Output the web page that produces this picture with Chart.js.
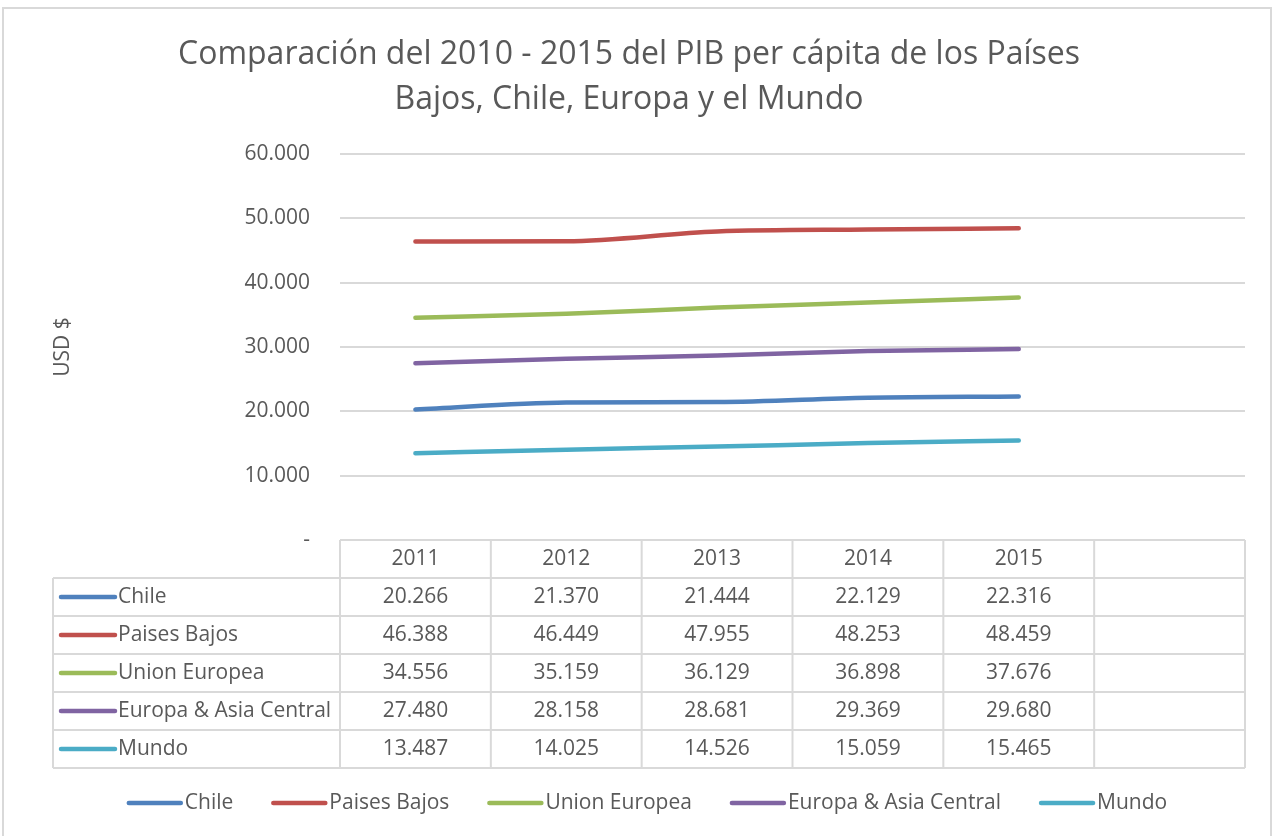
<!DOCTYPE html>
<html>
<head>
<meta charset="utf-8">
<script src="https://cdn.jsdelivr.net/npm/chart.js@4"></script>
<style>
  body { margin: 0; background: #fff; }
  #wrap { width: 1274px; height: 836px; }
</style>
</head>
<body>
<div id="wrap"><canvas id="pib"></canvas></div>
<script>
const titleLines = ['Comparación del 2010 - 2015 del PIB per cápita de los Países', 'Bajos, Chile, Europa y el Mundo'];
const years = ['2011', '2012', '2013', '2014', '2015', ''];
const seriesNames = ['Chile', 'Paises Bajos', 'Union Europea', 'Europa & Asia Central', 'Mundo'];
const chile = [20266, 21370, 21444, 22129, 22316];
const paisesBajos = [46388, 46449, 47955, 48253, 48459];
const unionEuropea = [34556, 35159, 36129, 36898, 37676];
const europaAsia = [27480, 28158, 28681, 29369, 29680];
const mundo = [13487, 14025, 14526, 15059, 15465];
const colors = ['#4F81BD', '#C0504D', '#9BBB59', '#8064A2', '#4BACC6'];

const FONT = '"Open Sans", sans-serif';
const TXT = '#595959';
const GRID = '#d9d9d9';
const FS = 21;

function fmt(v) {
  if (v === 0) return '-';
  return String(v).replace(/\B(?=(\d{3})+(?!\d))/g, '.');
}

const allSeries = [chile, paisesBajos, unionEuropea, europaAsia, mundo];

// title, excel-style data table under the plot, legend at the bottom
const tablePlugin = {
  id: 'tableAndLegend',
  beforeDraw(chart) {
    const ctx = chart.ctx;
    ctx.save();
    ctx.fillStyle = '#fff';
    ctx.fillRect(0, 0, chart.width, chart.height);
    ctx.strokeStyle = GRID;
    ctx.lineWidth = 2;
    ctx.strokeRect(3, 8, 1268, 840);
    ctx.restore();
  },
  afterDraw(chart) {
    const ctx = chart.ctx;
    const x = chart.scales.x;
    const area = chart.chartArea;
    const rowH = 38;
    const colW = (area.right - area.left) / years.length;
    const tableLeft = 53;
    const top = area.bottom;
    const nRows = chart.data.datasets.length;

    ctx.save();
    // title
    ctx.font = '32px ' + FONT;
    ctx.fillStyle = TXT;
    ctx.textAlign = 'center';
    ctx.textBaseline = 'middle';
    titleLines.forEach((t, i) => ctx.fillText(t, 629, 55 + i * 45));

    ctx.strokeStyle = GRID;
    ctx.lineWidth = 2;
    ctx.beginPath();
    ctx.moveTo(area.left, top);
    ctx.lineTo(area.right, top);
    for (let r = 0; r <= nRows; r++) {
      const y = top + rowH * (r + 1);
      ctx.moveTo(tableLeft, y);
      ctx.lineTo(area.right, y);
    }
    for (let c = 0; c <= years.length; c++) {
      const cx = area.left + c * colW;
      ctx.moveTo(cx, top);
      ctx.lineTo(cx, top + rowH * (nRows + 1));
    }
    ctx.moveTo(tableLeft, top + rowH);
    ctx.lineTo(tableLeft, top + rowH * (nRows + 1));
    ctx.stroke();

    ctx.font = FS + 'px ' + FONT;
    ctx.fillStyle = TXT;
    years.forEach((yr, i) => {
      ctx.fillText(yr, x.getPixelForValue(i), top + rowH / 2);
    });

    chart.data.datasets.forEach((ds, r) => {
      const cy = top + rowH * (r + 1) + rowH / 2;
      ctx.strokeStyle = ds.borderColor;
      ctx.lineWidth = 4.5;
      ctx.lineCap = 'round';
      ctx.beginPath();
      ctx.moveTo(61, cy);
      ctx.lineTo(115, cy);
      ctx.stroke();
      ctx.textAlign = 'left';
      ctx.fillStyle = TXT;
      ctx.fillText(ds.label, 118, cy);
      ctx.textAlign = 'center';
      ds.data.forEach((v, i) => {
        if (v == null) return;
        ctx.fillText(fmt(v), x.getPixelForValue(i), cy);
      });
    });

    // legend
    const ly = 803;
    const mark = 56, gapT = 2, gapI = 38;
    const widths = chart.data.datasets.map(ds => mark + gapT + ctx.measureText(ds.label).width);
    const total = widths.reduce((a, b) => a + b, 0) + gapI * (widths.length - 1);
    let lx = 647 - total / 2;
    chart.data.datasets.forEach((ds, i) => {
      ctx.strokeStyle = ds.borderColor;
      ctx.lineWidth = 4.5;
      ctx.beginPath();
      ctx.moveTo(lx + 2, ly);
      ctx.lineTo(lx + mark - 2, ly);
      ctx.stroke();
      ctx.textAlign = 'left';
      ctx.fillStyle = TXT;
      ctx.fillText(ds.label, lx + mark + gapT, ly);
      lx += widths[i] + gapI;
    });
    ctx.restore();
  }
};

new Chart(document.getElementById('pib'), {
  type: 'line',
  plugins: [tablePlugin],
  data: {
    labels: years,
    datasets: seriesNames.map((name, i) => ({
      label: name,
      data: allSeries[i],
      borderColor: colors[i],
      backgroundColor: colors[i],
      borderWidth: 4.5,
      borderCapStyle: 'round',
      pointRadius: 0,
      cubicInterpolationMode: 'monotone',
      fill: false
    }))
  },
  options: {
    responsive: true,
    maintainAspectRatio: false,
    animation: false,
    layout: { padding: { top: 154, left: 50, right: 29, bottom: 0 } },
    plugins: {
      legend: { display: false },
      tooltip: { enabled: false },
      title: { display: false }
    },
    scales: {
      x: {
        offset: true,
        grid: { display: false },
        border: { display: false },
        ticks: { display: false },
        afterFit(scale) { scale.height = 296; }
      },
      y: {
        min: 0,
        max: 60000,
        ticks: {
          stepSize: 10000,
          padding: 30,
          color: TXT,
          font: { family: FONT, size: FS },
          callback: v => fmt(v)
        },
        grid: { color: GRID, lineWidth: 2, drawTicks: false },
        border: { display: false },
        title: {
          display: true,
          text: 'USD $',
          color: TXT,
          font: { family: FONT, size: FS },
          padding: 0
        },
        afterFit(scale) { scale.width = 290; }
      }
    }
  }
});
</script>
</body>
</html>
